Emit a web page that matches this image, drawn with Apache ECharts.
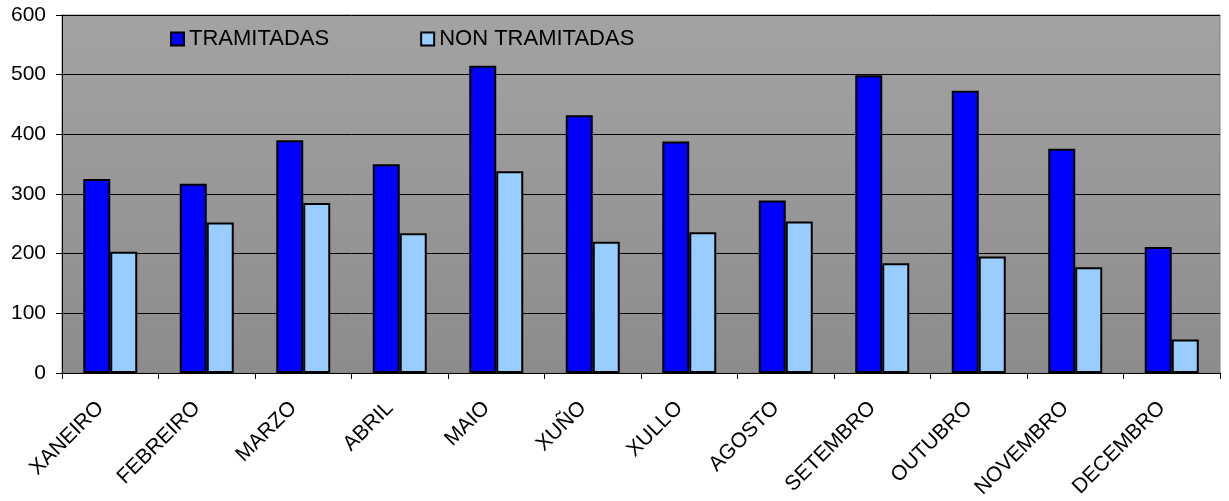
<!DOCTYPE html>
<html>
<head>
<meta charset="utf-8">
<script src="https://cdn.jsdelivr.net/npm/echarts@6/dist/echarts.min.js"></script>
<style>
  html, body { margin: 0; padding: 0; background: #fff; }
  #main { width: 1229px; height: 501px; }
</style>
</head>
<body>
<div id="main"></div>
<script>
const months = ['XANEIRO', 'FEBREIRO', 'MARZO', 'ABRIL', 'MAIO', 'XUÑO', 'XULLO', 'AGOSTO', 'SETEMBRO', 'OUTUBRO', 'NOVEMBRO', 'DECEMBRO'];
const tramitadas = [325, 317, 390, 350, 515, 432, 388, 289, 499, 473, 376, 211];
const nonTramitadas = [203, 252, 285, 234, 338, 220, 236, 254, 184, 195, 177, 56];
const yTicks = { min: 0, max: 600, interval: 100 };

const chart = echarts.init(document.getElementById('main'));
const font = 'Liberation Sans, Arial, sans-serif';

chart.setOption({
    animation: false,
    textStyle: { fontFamily: font },
    grid: {
        left: 62, right: 9, top: 15, bottom: 128,
        show: true,
        borderColor: '#808080',
        borderWidth: 1,
        backgroundColor: {
            type: 'linear', x: 0, y: 0, x2: 0, y2: 1,
            colorStops: [
                { offset: 0, color: '#a3a3a3' },
                { offset: 1, color: '#8c8c8c' }
            ]
        }
    },
    legend: {
        left: 170, top: 28, padding: 0,
        itemWidth: 13, itemHeight: 13,
        itemGap: 91,
        icon: 'rect',
        textStyle: { color: '#000', fontSize: 22, fontFamily: font },
        data: ['TRAMITADAS', 'NON TRAMITADAS']
    },
    xAxis: {
        type: 'category',
        data: months,
        axisLine: { lineStyle: { color: '#000', width: 1 } },
        axisTick: { show: true, alignWithLabel: false, length: 6, lineStyle: { color: '#000' } },
        axisLabel: {
            color: '#000', fontSize: 21, rotate: 45, margin: 22, interval: 0,
            padding: [0, 14, 0, 0], fontFamily: font
        }
    },
    yAxis: {
        type: 'value',
        min: yTicks.min, max: yTicks.max, interval: yTicks.interval,
        axisLine: { show: true, lineStyle: { color: '#000', width: 1 } },
        axisTick: { show: true, length: 6, lineStyle: { color: '#000' } },
        axisLabel: { color: '#000', fontSize: 21, margin: 16, fontFamily: font },
        splitLine: { lineStyle: { color: '#000', width: 1 } }
    },
    series: [
        {
            name: 'TRAMITADAS', type: 'bar', data: tramitadas,
            barWidth: 27, barGap: '0%',
            itemStyle: { color: '#0000ff', borderColor: '#000', borderWidth: 2 }
        },
        {
            name: 'NON TRAMITADAS', type: 'bar', data: nonTramitadas,
            barWidth: 27,
            itemStyle: { color: '#99ccff', borderColor: '#000', borderWidth: 2 }
        }
    ]
});
</script>
</body>
</html>
